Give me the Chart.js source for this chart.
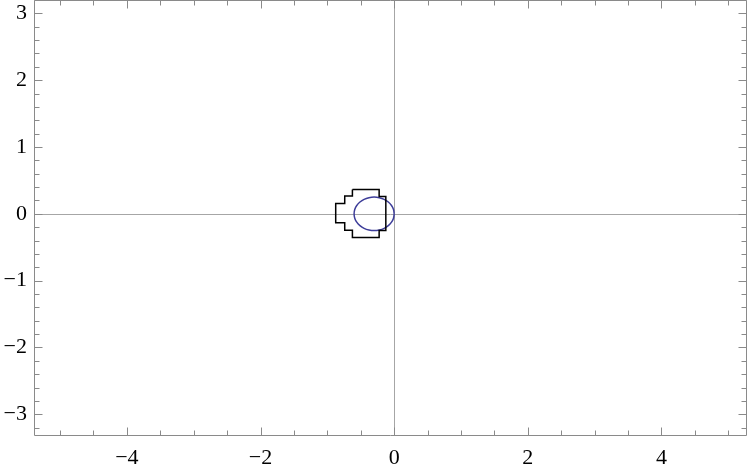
<!DOCTYPE html>
<html>
<head>
<meta charset="utf-8">
<script src="https://cdn.jsdelivr.net/npm/chart.js@4/dist/chart.umd.min.js"></script>
<style>
  body { margin: 0; background: #fff; }
  #wrap { width: 747px; height: 468px; position: relative; }
</style>
</head>
<body>
<div id="wrap"><canvas id="plot"></canvas></div>
<script>
// stepped outline (black)
var polyX = [-0.625, -0.225, -0.225, -0.125, -0.125, -0.225, -0.225, -0.625, -0.625, -0.74, -0.74, -0.875, -0.875, -0.74, -0.74, -0.625, -0.625];
var polyY = [0.365, 0.365, 0.26, 0.26, -0.25, -0.25, -0.355, -0.355, -0.245, -0.245, -0.135, -0.135, 0.155, 0.155, 0.265, 0.265, 0.365];

// ellipse (blue), points
var ellipseX = [0, -0.010, -0.040, -0.088, -0.150, -0.222, -0.300, -0.378, -0.450, -0.512, -0.560, -0.590, -0.600, -0.590, -0.560, -0.512, -0.450, -0.378, -0.300, -0.222, -0.150, -0.088, -0.040, -0.010, 0];
var ellipseY = [0, 0.065, 0.125, 0.177, 0.217, 0.241, 0.250, 0.241, 0.217, 0.177, 0.125, 0.065, 0, -0.065, -0.125, -0.177, -0.217, -0.241, -0.250, -0.241, -0.217, -0.177, -0.125, -0.065, 0];

// tick labels
var xLabels = [-4, -2, 0, 2, 4];
var yLabels = [-3, -2, -1, 0, 1, 2, 3];

var xRange = [-5.39, 5.28];
var yRange = [-3.31, 3.2];

function pts(xs, ys) {
    var out = [];
    for (var i = 0; i < xs.length; i++) out.push({x: xs[i], y: ys[i]});
    return out;
}

function isLabel(list, v) {
    for (var i = 0; i < list.length; i++) {
        if (Math.abs(list[i] - v) < 1e-6) return true;
    }
    return false;
}

function fmt(v) {
    var r = Math.round(v);
    return r < 0 ? '\u2212' + Math.abs(r) : String(r);
}

var FRAME = '#8a8a8a';

// frame with inward ticks plus the two zero axes
var framePlugin = {
    id: 'frame',
    beforeDatasetsDraw: function(chart) {
        var ctx = chart.ctx, a = chart.chartArea;
        var xs = chart.scales.x, ys = chart.scales.y;
        ctx.save();
        ctx.strokeStyle = '#a6a6a6';
        ctx.lineWidth = 1;
        var x0 = Math.round(xs.getPixelForValue(0)) + 0.5;
        var y0 = Math.round(ys.getPixelForValue(0)) + 0.5;
        ctx.beginPath();
        ctx.moveTo(x0, a.top); ctx.lineTo(x0, a.bottom);
        ctx.moveTo(a.left, y0); ctx.lineTo(a.right, y0);
        ctx.stroke();
        ctx.restore();
    },
    afterDraw: function(chart) {
        var ctx = chart.ctx, a = chart.chartArea;
        var xs = chart.scales.x, ys = chart.scales.y;
        var L = Math.round(a.left) + 0.5, R = Math.round(a.right) - 0.5;
        var T = Math.round(a.top) + 0.5, B = Math.round(a.bottom) + 0.5;
        ctx.save();
        ctx.strokeStyle = FRAME;
        ctx.lineWidth = 1;
        ctx.beginPath();
        ctx.rect(L, T, R - L, B - T);
        ctx.stroke();
        ctx.beginPath();
        var v, p, len;
        for (v = -5; v <= 5.001; v += 0.5) {
            p = Math.round(xs.getPixelForValue(v)) + 0.5;
            len = isLabel(xLabels, v) ? 8 : 5;
            ctx.moveTo(p, B); ctx.lineTo(p, B - len);
            ctx.moveTo(p, T); ctx.lineTo(p, T + len);
        }
        for (v = -3.2; v <= 3.201; v += 0.2) {
            p = Math.round(ys.getPixelForValue(v)) + 0.5;
            len = isLabel(yLabels, Math.round(v * 10) / 10) ? 8 : 5;
            ctx.moveTo(L, p); ctx.lineTo(L + len, p);
            ctx.moveTo(R, p); ctx.lineTo(R - len, p);
        }
        ctx.stroke();
        ctx.restore();
    }
};

var ctx = document.getElementById('plot').getContext('2d');
var chart = new Chart(ctx, {
    type: 'scatter',
    data: {
        datasets: [{
            data: pts(polyX, polyY),
            showLine: true,
            borderColor: '#000000',
            borderWidth: 1.5,
            pointRadius: 0,
            tension: 0,
            fill: false
        }, {
            data: pts(ellipseX, ellipseY),
            showLine: true,
            borderColor: '#3d3d99',
            borderWidth: 1.5,
            pointRadius: 0,
            tension: 0.35,
            fill: false
        }]
    },
    options: {
        responsive: true,
        maintainAspectRatio: false,
        animation: false,
        layout: { padding: 0 },
        plugins: {
            legend: { display: false },
            tooltip: { enabled: false }
        },
        scales: {
            x: {
                type: 'linear',
                min: xRange[0],
                max: xRange[1],
                grid: { display: false, drawTicks: false },
                border: { display: false },
                afterFit: function(s) { s.height = 33; s.paddingLeft = 0; s.paddingRight = 0; },
                ticks: {
                    stepSize: 1,
                    includeBounds: false,
                    autoSkip: false,
                    maxRotation: 0,
                    padding: 10,
                    color: '#000',
                    font: { family: 'Liberation Serif', size: 22 },
                    callback: function(v) { return isLabel(xLabels, v) ? fmt(v) : ''; }
                }
            },
            y: {
                type: 'linear',
                min: yRange[0],
                max: yRange[1],
                grid: { display: false, drawTicks: false },
                border: { display: false },
                afterFit: function(s) { s.width = 34; s.paddingTop = 0; s.paddingBottom = 0; },
                ticks: {
                    stepSize: 1,
                    includeBounds: false,
                    autoSkip: false,
                    padding: 7,
                    color: '#000',
                    font: { family: 'Liberation Serif', size: 22 },
                    callback: function(v) { return isLabel(yLabels, v) ? fmt(v) : ''; }
                }
            }
        }
    },
    plugins: [framePlugin]
});
</script>
</body>
</html>
